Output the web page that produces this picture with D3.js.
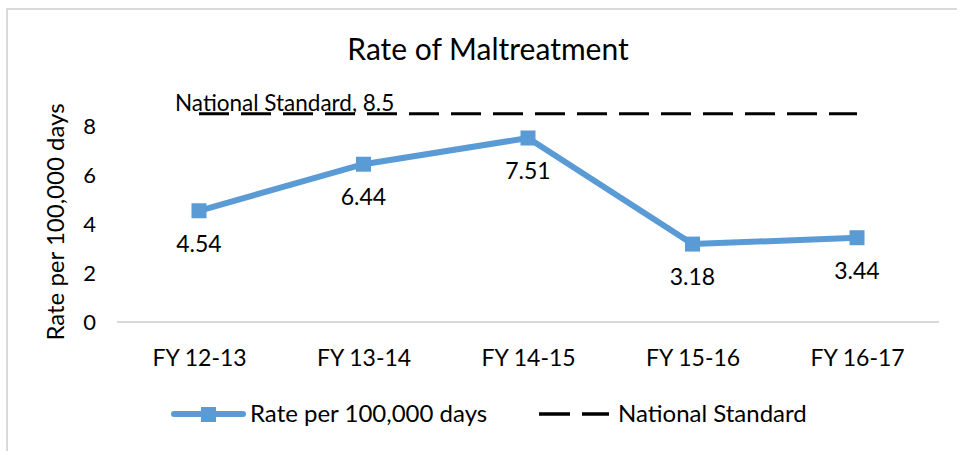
<!DOCTYPE html>
<html>
<head>
<meta charset="utf-8">
<script src="https://cdn.jsdelivr.net/npm/d3@7"></script>
<style>
  html, body { margin: 0; padding: 0; background: #fff; }
  svg { display: block; font-family: Lato, "Open Sans", sans-serif; }
</style>
</head>
<body>
<svg id="chart" width="957" height="451"></svg>
<script>
// Data van de grafiek
const categories = ["FY 12-13", "FY 13-14", "FY 14-15", "FY 15-16", "FY 16-17"];
const rateValues = [4.54, 6.44, 7.51, 3.18, 3.44];
const nationalStandard = 8.5;
const yTicks = [0, 2, 4, 6, 8];

const blue = "#5B9BD5";
const svg = d3.select("#chart");

// Kader om de grafiek
svg.append("rect")
  .attr("x", 7).attr("y", 9)
  .attr("width", 1000).attr("height", 500)
  .attr("fill", "none")
  .attr("stroke", "#d9d9d9")
  .attr("stroke-width", 2);

// Schalen
const x = d3.scalePoint().domain(categories).range([199, 857]);
const y = d3.scaleLinear().domain([0, 9]).range([322, 101.5]);

// Titel
svg.append("text")
  .attr("x", 488).attr("y", 60)
  .attr("text-anchor", "middle")
  .attr("font-size", 30)
  .attr("fill", "#000")
  .text("Rate of Maltreatment");

// Y-as titel
svg.append("text")
  .attr("transform", "translate(64,222) rotate(-90)")
  .attr("text-anchor", "middle")
  .attr("font-size", 24)
  .attr("fill", "#000")
  .text("Rate per 100,000 days");

// Y-as labels (zonder lijn)
const yAxis = svg.append("g")
  .attr("transform", "translate(96,0)")
  .call(d3.axisLeft(y).tickValues(yTicks).tickSize(0).tickPadding(0));
yAxis.select(".domain").remove();
yAxis.selectAll("text")
  .attr("font-size", 22)
  .attr("font-family", "Lato, 'Open Sans', sans-serif")
  .attr("fill", "#000");

// X-as met lichtgrijze lijn
svg.append("line")
  .attr("x1", 117).attr("x2", 939)
  .attr("y1", y(0)).attr("y2", y(0))
  .attr("stroke", "#d9d9d9")
  .attr("stroke-width", 2);

const xAxis = svg.append("g")
  .attr("transform", `translate(0,${y(0)})`)
  .call(d3.axisBottom(x).tickSize(0).tickPadding(28));
xAxis.select(".domain").remove();
xAxis.selectAll("text")
  .attr("font-size", 23)
  .attr("font-family", "Lato, 'Open Sans', sans-serif")
  .attr("fill", "#000");

// Nationale standaard (stippellijn)
svg.append("line")
  .attr("x1", x(categories[0])).attr("x2", x(categories[categories.length - 1]))
  .attr("y1", y(nationalStandard)).attr("y2", y(nationalStandard))
  .attr("stroke", "#000")
  .attr("stroke-width", 3)
  .attr("stroke-dasharray", "30,12");

svg.append("text")
  .attr("x", x(categories[0]) - 24)
  .attr("y", y(nationalStandard) - 3)
  .attr("font-size", 22.5)
  .attr("fill", "#000")
  .text(`National Standard, ${nationalStandard}`);

// Lijn met de rate
const line = d3.line()
  .x((d, i) => x(categories[i]))
  .y(d => y(d));

svg.append("path")
  .datum(rateValues)
  .attr("d", line)
  .attr("fill", "none")
  .attr("stroke", blue)
  .attr("stroke-width", 6)
  .attr("stroke-linejoin", "round");

svg.selectAll("rect.marker")
  .data(rateValues)
  .join("rect")
  .attr("class", "marker")
  .attr("x", (d, i) => x(categories[i]) - 7.5)
  .attr("y", d => y(d) - 7.5)
  .attr("width", 15).attr("height", 15)
  .attr("fill", blue);

// Data labels onder de punten
svg.selectAll("text.label")
  .data(rateValues)
  .join("text")
  .attr("class", "label")
  .attr("x", (d, i) => x(categories[i]))
  .attr("y", d => y(d) + 41)
  .attr("text-anchor", "middle")
  .attr("font-size", 23)
  .attr("fill", "#000")
  .text(d => d.toFixed(2));

// Legenda
const legend = svg.append("g");
legend.append("line")
  .attr("x1", 174).attr("x2", 243).attr("y1", 414).attr("y2", 414)
  .attr("stroke", blue).attr("stroke-width", 6).attr("stroke-linecap", "round");
legend.append("rect")
  .attr("x", 201).attr("y", 407).attr("width", 15).attr("height", 15)
  .attr("fill", blue);
legend.append("text")
  .attr("x", 250).attr("y", 422)
  .attr("font-size", 24)
  .attr("fill", "#000")
  .text("Rate per 100,000 days");

legend.append("line")
  .attr("x1", 539).attr("x2", 609).attr("y1", 414).attr("y2", 414)
  .attr("stroke", "#000").attr("stroke-width", 3.5).attr("stroke-dasharray", "31,12");
legend.append("text")
  .attr("x", 618).attr("y", 422)
  .attr("font-size", 24)
  .attr("fill", "#000")
  .text("National Standard");
</script>
</body>
</html>
